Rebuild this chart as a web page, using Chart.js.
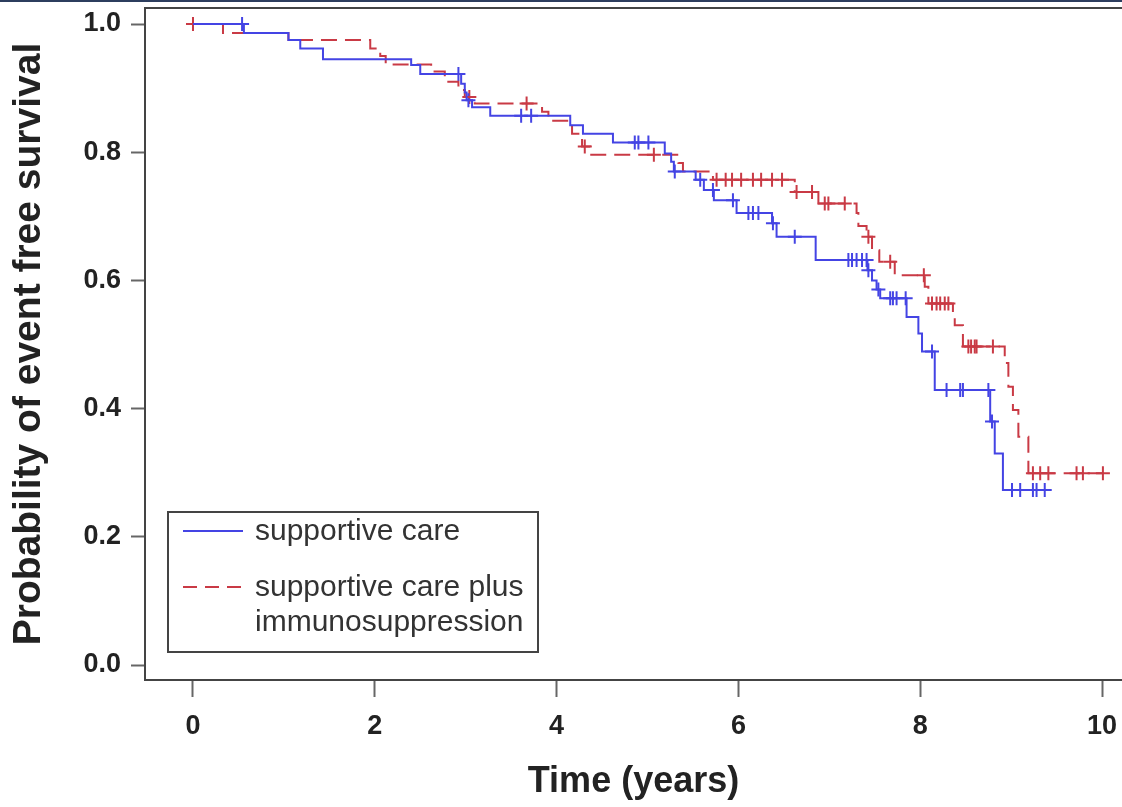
<!DOCTYPE html>
<html>
<head>
<meta charset="utf-8">
<script src="https://cdn.jsdelivr.net/npm/chart.js@4/dist/chart.umd.min.js"></script>
<style>
  html, body { margin: 0; padding: 0; background: #ffffff; }
  #wrap { position: relative; width: 1122px; height: 807px; overflow: hidden; }
  #band { position: absolute; left: 0; top: 0; width: 1122px; height: 2px; background: #2c3d5e; z-index: 2; }
  canvas { position: absolute; left: 0; top: 0; }
</style>
</head>
<body>
<div id="wrap">
  <div id="band"></div>
  <canvas id="c" width="1122" height="807"></canvas>
</div>
<script>
// ---- data ----
const seriesNames = ["supportive care", ["supportive care plus", "immunosuppression"]];
const xTitle = "Time (years)";
const yTitle = "Probability of event free survival";
const xTicks = [0, 2, 4, 6, 8, 10];
const yTicks = [0.0, 0.2, 0.4, 0.6, 0.8, 1.0];

// supportive care: step times (years) and survival after each step
const blueT = [0, 0.56, 1.05, 1.18, 1.43, 2.40, 2.50, 2.95, 2.99, 3.01, 3.07, 3.27, 4.15, 4.29, 4.62, 5.19, 5.26, 5.29, 5.53, 5.62, 5.73, 5.98, 6.37, 6.42, 6.85, 7.42, 7.47, 7.52, 7.56, 7.85, 7.98, 8.02, 8.16, 8.77, 8.82, 8.91, 9.39];
const blueS = [1.000, 0.986, 0.975, 0.962, 0.945, 0.936, 0.922, 0.907, 0.893, 0.881, 0.870, 0.857, 0.842, 0.829, 0.815, 0.798, 0.785, 0.770, 0.757, 0.741, 0.725, 0.705, 0.689, 0.668, 0.632, 0.616, 0.600, 0.586, 0.572, 0.543, 0.517, 0.489, 0.429, 0.380, 0.330, 0.273, 0.273];
const blueCensor = [0.54, 2.92, 3.03, 3.61, 3.72, 4.86, 4.90, 5.01, 5.30, 5.58, 5.72, 5.94, 6.11, 6.16, 6.22, 6.38, 6.62, 7.21, 7.25, 7.30, 7.36, 7.41, 7.43, 7.54, 7.67, 7.70, 7.74, 7.84, 8.13, 8.29, 8.44, 8.47, 8.75, 8.79, 9.01, 9.10, 9.24, 9.28, 9.37];

// supportive care plus immunosuppression
const redT = [0, 0.33, 1.05, 1.95, 2.06, 2.12, 2.62, 2.77, 2.92, 2.99, 3.10, 3.84, 3.91, 4.17, 4.28, 4.37, 5.34, 5.39, 5.72, 6.62, 6.88, 7.30, 7.32, 7.41, 7.47, 7.55, 7.72, 8.05, 8.09, 8.36, 8.38, 8.47, 8.93, 8.97, 9.02, 9.08, 9.19, 10.05];
const redS = [1.000, 0.986, 0.975, 0.962, 0.950, 0.937, 0.926, 0.910, 0.897, 0.886, 0.876, 0.863, 0.849, 0.829, 0.809, 0.796, 0.783, 0.770, 0.757, 0.738, 0.720, 0.705, 0.685, 0.668, 0.647, 0.629, 0.608, 0.590, 0.564, 0.549, 0.530, 0.497, 0.471, 0.434, 0.398, 0.356, 0.299, 0.299];
const redCensor = [0, 3.04, 3.67, 4.31, 5.07, 5.76, 5.86, 5.93, 6.03, 6.16, 6.25, 6.37, 6.48, 6.64, 6.81, 6.95, 6.99, 7.17, 7.43, 7.67, 8.04, 8.13, 8.18, 8.22, 8.27, 8.31, 8.53, 8.56, 8.60, 8.62, 8.80, 9.24, 9.32, 9.41, 9.72, 9.79, 10.01];

// ---- styling ----
const BLUE = '#4444e4';
const RED = '#c93a45';
const FONT = "'Liberation Sans', Arial, Helvetica, sans-serif";

function stepPoints(T, S) { return T.map((t, i) => ({ x: t, y: S[i] })); }
function survAt(T, S, t) {
  let v = S[0];
  for (let i = 0; i < T.length; i++) { if (T[i] <= t) v = S[i]; }
  return v;
}
function censorPoints(C, T, S) { return C.map(t => ({ x: t, y: survAt(T, S, t) })); }

const frameAndLegend = {
  id: 'frameAndLegend',
  afterDraw(chart) {
    const { ctx, chartArea: ca } = chart;
    ctx.save();
    // top frame line
    ctx.strokeStyle = '#444';
    ctx.lineWidth = 2;
    ctx.beginPath();
    ctx.moveTo(ca.left, ca.top);
    ctx.lineTo(ca.right, ca.top);
    ctx.stroke();

    // legend box
    const bx = ca.left + 23, by = ca.bottom - 168, bw = 370, bh = 140;
    ctx.strokeStyle = '#444';
    ctx.lineWidth = 2;
    ctx.strokeRect(bx, by, bw, bh);
    ctx.font = "30px " + FONT;
    ctx.fillStyle = '#333';
    ctx.textBaseline = 'middle';
    ctx.textAlign = 'left';
    const ds = chart.data.datasets;
    // entry 1
    ctx.strokeStyle = ds[0].borderColor;
    ctx.lineWidth = 2;
    ctx.setLineDash([]);
    ctx.beginPath();
    ctx.moveTo(bx + 15, by + 19);
    ctx.lineTo(bx + 75, by + 19);
    ctx.stroke();
    ctx.fillText(seriesNames[0], bx + 87, by + 20);
    // entry 2
    ctx.strokeStyle = ds[1].borderColor;
    ctx.setLineDash([14, 8]);
    ctx.beginPath();
    ctx.moveTo(bx + 15, by + 75);
    ctx.lineTo(bx + 75, by + 75);
    ctx.stroke();
    ctx.setLineDash([]);
    const lines = seriesNames[1];
    lines.forEach((s, i) => ctx.fillText(s, bx + 87, by + 76 + i * 35));
    ctx.restore();
  }
};

new Chart(document.getElementById('c'), {
  type: 'line',
  data: {
    datasets: [
      {
        label: seriesNames[0],
        data: stepPoints(blueT, blueS),
        borderColor: BLUE, borderWidth: 2, stepped: 'before',
        pointRadius: 0, fill: false
      },
      {
        label: seriesNames[1].join(' '),
        data: stepPoints(redT, redS),
        borderColor: RED, borderWidth: 2, stepped: 'before', borderDash: [16, 8],
        pointRadius: 0, fill: false
      },
      {
        label: 'censored 1',
        data: censorPoints(blueCensor, blueT, blueS),
        showLine: false, pointStyle: 'cross', pointRadius: 7,
        borderColor: BLUE, pointBorderWidth: 2
      },
      {
        label: 'censored 2',
        data: censorPoints(redCensor, redT, redS),
        showLine: false, pointStyle: 'cross', pointRadius: 7,
        borderColor: RED, pointBorderWidth: 2
      }
    ]
  },
  options: {
    responsive: false,
    animation: false,
    devicePixelRatio: 1,
    layout: { autoPadding: false, padding: { top: 8, right: 0, bottom: 0, left: 0 } },
    plugins: { legend: { display: false }, tooltip: { enabled: false } },
    scales: {
      x: {
        type: 'linear',
        min: -0.528, max: 10.22,
        afterBuildTicks: s => { s.ticks = xTicks.map(v => ({ value: v })); },
        afterFit: s => { s.height = 127; s.paddingLeft = 0; s.paddingRight = 0; },
        ticks: { font: { family: FONT, size: 27, weight: 'bold' }, color: '#222', padding: 13, maxRotation: 0 },
        grid: { drawOnChartArea: false, drawTicks: true, tickLength: 17, tickColor: '#666', tickWidth: 2 },
        border: { display: true, color: '#444', width: 2 },
        title: { display: true, text: xTitle, color: '#222', font: { family: FONT, size: 36, weight: 'bold' }, padding: { top: 0, bottom: 3 } }
      },
      y: {
        type: 'linear',
        min: -0.0234, max: 1.025,
        afterBuildTicks: s => { s.ticks = yTicks.map(v => ({ value: v })); },
        afterFit: s => { s.width = 145; s.paddingTop = 0; s.paddingBottom = 0; },
        ticks: { font: { family: FONT, size: 27, weight: 'bold' }, color: '#222', padding: 10, callback: v => Number(v).toFixed(1) },
        grid: { drawOnChartArea: false, drawTicks: true, tickLength: 14, tickColor: '#666', tickWidth: 2 },
        border: { display: true, color: '#444', width: 2 },
        title: { display: true, text: yTitle, color: '#222', font: { family: FONT, size: 39, weight: 'bold' }, padding: { top: 6, bottom: 0 } }
      }
    }
  },
  plugins: [frameAndLegend]
});
</script>
</body>
</html>
